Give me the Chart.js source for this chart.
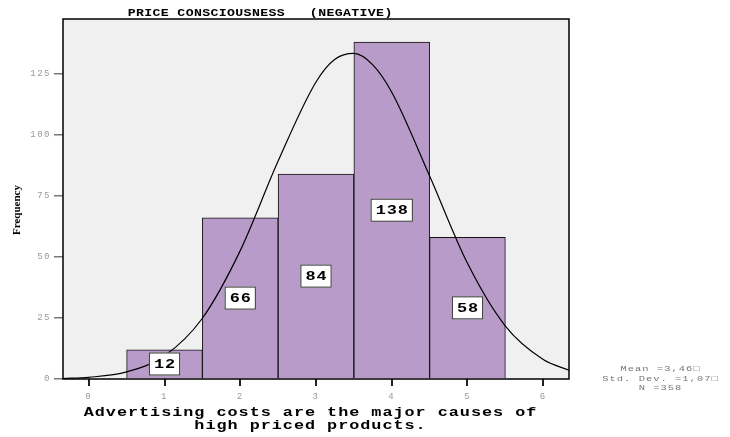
<!DOCTYPE html>
<html>
<head>
<meta charset="utf-8">
<script src="https://cdn.jsdelivr.net/npm/chart.js@4/dist/chart.umd.min.js"></script>
<style>
  body { margin: 0; background: #fff; }
  canvas { display: block; }
</style>
</head>
<body>
<canvas id="histCanvas" width="730" height="437"></canvas>
<script>
// Histogram data
const binValues = [1, 2, 3, 4, 5];
const frequencies = [12, 66, 84, 138, 58];
const xTickValues = [0, 1, 2, 3, 4, 5, 6];
const yTickValues = [0, 25, 50, 75, 100, 125];

// Normal curve
const curveX = [-0.34, 0, 0.5, 1, 1.5, 2, 2.5, 3, 3.25, 3.5, 3.75, 4, 4.5, 5, 5.5, 6, 6.34];
const curveY = [0.2, 0.7, 2.9, 9.5, 24.9, 52.6, 89.3, 121.7, 131.0, 133.4, 128.7, 117.5, 83.2, 47.4, 21.7, 8.0, 3.6];

const statsLines = ['Mean =3,46\u25A1', 'Std. Dev. =1,07\u25A1', 'N =358'];

// draw text centered, stretched wide like the old SPSS output
function wideText(ctx, txt, x, y, spacing, stretch) {
  ctx.letterSpacing = spacing + 'px';
  const w = ctx.measureText(txt).width - spacing;
  ctx.save();
  ctx.translate(x, y);
  ctx.scale(stretch, 1);
  ctx.textAlign = 'left';
  ctx.fillText(txt, -w / 2, 0);
  ctx.restore();
  return w * stretch;
}

const plotDecor = {
  id: 'plotDecor',
  beforeDraw(chart) {
    const { ctx, chartArea: a } = chart;
    ctx.save();
    ctx.fillStyle = '#f0f0f0';
    ctx.fillRect(a.left, a.top, a.right - a.left, a.bottom - a.top);
    ctx.restore();
    // wide spacing for tick labels
    ctx.letterSpacing = '1.5px';
  },
  afterDraw(chart) {
    const { ctx, chartArea: a } = chart;
    ctx.save();
    // frame
    ctx.strokeStyle = '#000';
    ctx.lineWidth = 1.5;
    ctx.strokeRect(a.left, a.top, a.right - a.left, a.bottom - a.top);

    // value labels in the bars
    const meta = chart.getDatasetMeta(0);
    ctx.font = 'bold 13px "Liberation Mono", monospace';
    ctx.textBaseline = 'middle';
    meta.data.forEach((bar, i) => {
      const txt = String(frequencies[i]);
      const cy = (bar.y + bar.base) / 2;
      ctx.letterSpacing = '0.7px';
      const tw = (ctx.measureText(txt).width - 0.7) * 1.3;
      const w = tw + 10;
      const h = 23;
      ctx.fillStyle = '#fff';
      ctx.fillRect(bar.x - w / 2, cy - h / 2, w, h);
      ctx.strokeStyle = '#333';
      ctx.lineWidth = 1;
      ctx.strokeRect(bar.x - w / 2 + 0.5, cy - h / 2 + 0.5, w - 1, h - 1);
      ctx.fillStyle = '#000';
      wideText(ctx, txt, bar.x, cy + 1, 0.7, 1.3);
    });

    // title
    ctx.fillStyle = '#000';
    ctx.font = 'bold 11px "Liberation Mono", monospace';
    wideText(ctx, 'PRICE CONSCIOUSNESS   (NEGATIVE)', 260, 13, 0.3, 1.2);

    // x axis title
    ctx.font = 'bold 12px "Liberation Mono", monospace';
    wideText(ctx, 'Advertising costs are the major causes of', 310, 413, 0.7, 1.4);
    wideText(ctx, 'high priced products.', 310, 426, 0.7, 1.4);

    // y axis title
    ctx.save();
    ctx.translate(17, 210);
    ctx.rotate(-Math.PI / 2);
    ctx.font = 'bold 11px "Liberation Serif", serif';
    wideText(ctx, 'Frequency', 0, 0, 0, 1);
    ctx.restore();

    // stats
    ctx.fillStyle = '#777';
    ctx.font = '8px "Liberation Mono", monospace';
    statsLines.forEach((s, i) => wideText(ctx, s, 660, 369 + i * 9.5, 0.8, 1.3));
    ctx.restore();
  }
};

new Chart(document.getElementById('histCanvas').getContext('2d'), {
  data: {
    datasets: [
      {
        type: 'bar',
        data: binValues.map((v, i) => ({ x: v, y: frequencies[i] })),
        backgroundColor: '#b89bc9',
        borderColor: '#111',
        borderWidth: 1,
        barPercentage: 1,
        categoryPercentage: 1,
        order: 2
      },
      {
        type: 'line',
        data: curveX.map((v, i) => ({ x: v, y: curveY[i] })),
        borderColor: '#000',
        borderWidth: 1.2,
        pointRadius: 0,
        fill: false,
        cubicInterpolationMode: 'monotone',
        order: 1
      }
    ]
  },
  options: {
    responsive: false,
    animation: false,
    layout: { padding: { left: 0, right: 161, top: 19, bottom: 28 } },
    plugins: {
      legend: { display: false },
      tooltip: { enabled: false }
    },
    scales: {
      x: {
        type: 'linear',
        min: -0.34,
        max: 6.34,
        offset: false,
        afterFit(scale) { scale.height = 30; },
        afterBuildTicks(scale) { scale.ticks = xTickValues.map(v => ({ value: v })); },
        border: { display: false },
        grid: { offset: false, drawOnChartArea: false, drawTicks: true, tickLength: 7, color: '#222', lineWidth: 2 },
        ticks: {
          color: '#999',
          font: { family: '"Liberation Mono", monospace', size: 9 },
          padding: 5,
          maxRotation: 0
        }
      },
      y: {
        min: 0,
        max: 147.5,
        afterFit(scale) { scale.width = 63; },
        afterBuildTicks(scale) { scale.ticks = yTickValues.map(v => ({ value: v })); },
        border: { display: false },
        grid: { drawOnChartArea: false, drawTicks: true, tickLength: 9, color: '#777', lineWidth: 1.5 },
        ticks: {
          color: '#999',
          font: { family: '"Liberation Mono", monospace', size: 9 },
          padding: 3
        }
      }
    }
  },
  plugins: [plotDecor]
});
</script>
</body>
</html>
